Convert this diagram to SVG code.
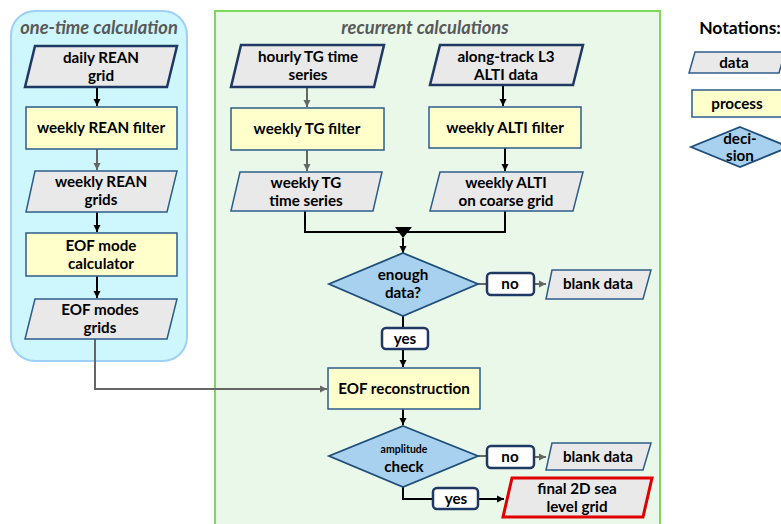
<svg xmlns="http://www.w3.org/2000/svg" width="781" height="524" viewBox="0 0 781 524">
<defs>
<marker id="ab" markerWidth="8" markerHeight="8" refX="7" refY="4" orient="auto" markerUnits="userSpaceOnUse"><path d="M0,0.5 L7,4 L0,7.5 Z" fill="#000"/></marker>
<marker id="ag" markerWidth="8" markerHeight="8" refX="7" refY="4" orient="auto" markerUnits="userSpaceOnUse"><path d="M0,0.5 L7,4 L0,7.5 Z" fill="#666"/></marker>
<style>
text{font-family:Lato,"Liberation Sans",sans-serif;font-weight:bold;font-size:15.2px;fill:#000;text-anchor:middle}
.title{font-style:italic;font-size:18.3px;fill:#595959}
.data{fill:#e9e9e9;stroke:#2e5c8a;stroke-width:1.5}
.input{fill:#e9e9e9;stroke:#1f3864;stroke-width:2.5}
.final{fill:#e9e9e9;stroke:#e00000;stroke-width:3}
.proc{fill:#ffffcc;stroke:#2e5c8a;stroke-width:1.5}
.dec{fill:#a8d0ef;stroke:#1f4e79;stroke-width:1.8}
.lab{fill:#fff;stroke:#1f3864;stroke-width:2.5}
.cb{fill:none;stroke:#000;stroke-width:2;marker-end:url(#ab)}
.cg{fill:none;stroke:#666;stroke-width:2;marker-end:url(#ag)}
.lb{fill:none;stroke:#000;stroke-width:2}
.lg{fill:none;stroke:#666;stroke-width:2}
</style>
</defs>
<rect width="781" height="524" fill="#fff"/>
<g id="panel-onetime">
<rect x="11" y="11" width="176" height="350" rx="24" fill="#cef6fd" stroke="#9fd0f5" stroke-width="2"/>
<text class="title" x="99" y="34">one-time calculation</text>
</g>
<g id="panel-recurrent">
<rect x="215" y="11" width="445" height="530" fill="#eaf8ea" stroke="#7ed957" stroke-width="2"/>
<text class="title" x="425" y="34">recurrent calculations</text>
</g>
<g id="connectors">
<path class="cb" d="M97,87 V106"/>
<path class="cg" d="M97,149 V170"/>
<path class="cb" d="M97,212 V232"/>
<path class="cb" d="M97,276 V298"/>
<path class="cg" d="M95,339 V389 H327"/>
<path class="cg" d="M307,87 V107"/>
<path class="cg" d="M307,150 V171"/>
<path class="cb" d="M503,85 V106"/>
<path class="cb" d="M505,148 V171"/>
<path class="lb" d="M305,211 V232 H505 V211"/>
<path d="M395,227 H412 L403,238 Z" fill="#000"/>
<path class="cb" d="M403,238 V253"/>
<path class="lg" d="M478,284 H487"/>
<path class="cg" d="M534,284 H546"/>
<path class="lb" d="M403,316 V328"/>
<path class="cb" d="M403,349 V367"/>
<path class="cb" d="M403,409 V425"/>
<path class="lg" d="M478,456 H487"/>
<path class="cg" d="M534,457 H546"/>
<path class="lb" d="M403,487 V499 H433"/>
<path class="cb" d="M478,499 H504"/>
</g>
<g id="n-daily-rean">
<polygon class="input" points="35,46 177,46 167,87 25,87"/>
<text x="101" y="63">daily REAN</text><text x="101" y="81">grid</text>
</g>
<g id="n-weekly-rean-filter">
<rect class="proc" x="26" y="107" width="151" height="42"/>
<text x="101" y="133">weekly REAN filter</text>
</g>
<g id="n-weekly-rean-grids">
<polygon class="data" points="35,171 177,171 167,212 26,212"/>
<text x="101" y="187">weekly REAN</text><text x="101" y="205">grids</text>
</g>
<g id="n-eof-mode-calc">
<rect class="proc" x="26" y="233" width="151" height="43"/>
<text x="101" y="251">EOF mode</text><text x="101" y="269">calculator</text>
</g>
<g id="n-eof-modes-grids">
<polygon class="data" points="35,299 177,299 167,339 25,339"/>
<text x="100" y="315">EOF modes</text><text x="100" y="333">grids</text>
</g>
<g id="n-hourly-tg">
<polygon class="input" points="241,45 384,45 374,87 231,87"/>
<text x="308" y="62">hourly TG time</text><text x="308" y="80">series</text>
</g>
<g id="n-weekly-tg-filter">
<rect class="proc" x="231" y="108" width="153" height="42"/>
<text x="307" y="134">weekly TG filter</text>
</g>
<g id="n-weekly-tg">
<polygon class="data" points="240,172 382,172 373,211 231,211"/>
<text x="306" y="188">weekly TG</text><text x="306" y="206">time series</text>
</g>
<g id="n-along-track">
<polygon class="input" points="440,45 583,45 573,85 430,85"/>
<text x="506" y="62">along-track L3</text><text x="506" y="80">ALTI data</text>
</g>
<g id="n-weekly-alti-filter">
<rect class="proc" x="429" y="107" width="152" height="41"/>
<text x="505" y="133">weekly ALTI filter</text>
</g>
<g id="n-weekly-alti">
<polygon class="data" points="440,172 583,172 573,211 430,211"/>
<text x="506" y="188">weekly ALTI</text><text x="506" y="206">on coarse grid</text>
</g>
<g id="n-enough-data">
<polygon class="dec" points="403,253 478,284 403,316 329,284"/>
<text x="403" y="280">enough</text><text x="403" y="298">data?</text>
</g>
<g id="n-no1">
<rect class="lab" x="487" y="273" width="47" height="22" rx="4"/>
<text x="510" y="289">no</text>
</g>
<g id="n-blank1">
<polygon class="data" points="552,270 651,270 643,299 546,299"/>
<text x="598" y="289">blank data</text>
</g>
<g id="n-yes1">
<rect class="lab" x="382" y="328" width="46" height="21" rx="4"/>
<text x="405" y="344">yes</text>
</g>
<g id="n-eof-recon">
<rect class="proc" x="328" y="368" width="152" height="41"/>
<text x="404" y="394">EOF reconstruction</text>
</g>
<g id="n-amplitude">
<polygon class="dec" points="403,426 478,456 403,487 329,456"/>
<text x="404" y="453" style="font-size:10.5px">amplitude</text><text x="404" y="472">check</text>
</g>
<g id="n-no2">
<rect class="lab" x="487" y="446" width="47" height="22" rx="4"/>
<text x="510" y="462">no</text>
</g>
<g id="n-blank2">
<polygon class="data" points="552,443 651,443 643,470 546,470"/>
<text x="598" y="462">blank data</text>
</g>
<g id="n-yes2">
<rect class="lab" x="433" y="488" width="45" height="21" rx="4"/>
<text x="456" y="504">yes</text>
</g>
<g id="n-final">
<polygon class="final" points="512,478 652,478 643,517 503,517"/>
<text x="577" y="494">final 2D sea</text><text x="577" y="512">level grid</text>
</g>
<g id="notations">
<text x="740" y="34" style="font-size:17.5px">Notations:</text>
<polygon class="data" points="695,52 785,52 779,73 689,73"/>
<text x="734" y="68">data</text>
<rect class="proc" x="692" y="90" width="100" height="27"/>
<text x="737" y="109">process</text>
<polygon class="dec" points="740,127 789,147 740,167 691,147"/>
<text x="740" y="144">deci-</text><text x="740" y="161">sion</text>
</g>
</svg>
